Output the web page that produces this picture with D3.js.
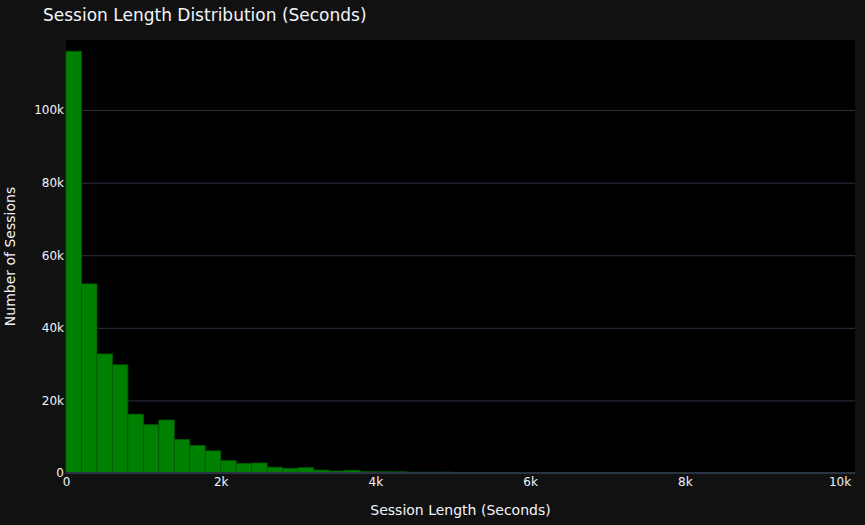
<!DOCTYPE html>
<html><head><meta charset="utf-8">
<script src="https://cdn.jsdelivr.net/npm/d3@7"></script>
<style>html,body{margin:0;padding:0;background:#111111;}svg{display:block;}</style>
</head><body>
<script>
const binStarts = d3.range(0, 10200, 200);
const counts = [116200, 52100, 32800, 29800, 16200, 13300, 14600, 9200, 7600, 6100,
  3400, 2600, 2750, 1600, 1300, 1460, 800, 550, 740, 360,
  350, 330, 220, 220, 230, 120, 80, 80, 70, 50,
  40, 30, 25, 20, 20, 15, 10, 10, 8, 6,
  5, 5, 4, 3, 3, 2, 2, 2, 1, 1, 1];
const binWidth = 200;
const yTicks = [0, 20000, 40000, 60000, 80000, 100000];
const xTicks = [0, 2000, 4000, 6000, 8000, 10000];
const titleText = "Session Length Distribution (Seconds)";
const xTitle = "Session Length (Seconds)";
const yTitle = "Number of Sessions";

const W = 865, H = 525;
const m = {l: 66, r: 10, t: 40, b: 52};
const font = "'DejaVu Sans', sans-serif";
const svg = d3.select("body").append("svg").attr("width", W).attr("height", H)
  .style("background", "#111111");

const x = d3.scaleLinear().domain([0, 10200]).range([m.l, W - m.r]);
const y = d3.scaleLinear().domain([0, 119300]).range([H - m.b, m.t]);

svg.append("rect").attr("x", m.l).attr("y", m.t)
  .attr("width", W - m.r - m.l).attr("height", H - m.b - m.t).attr("fill", "#000000");

// grid
svg.append("g").selectAll("line").data(yTicks.filter(d => d > 0)).join("line")
  .attr("x1", m.l).attr("x2", W - m.r)
  .attr("y1", d => y(d) + 0.5).attr("y2", d => y(d) + 0.5)
  .attr("stroke", "#283442").attr("stroke-width", 1);

// bars
const data = binStarts.map((s, i) => ({s, v: counts[i]}));
svg.append("g").selectAll("rect").data(data).join("rect")
  .attr("x", d => x(d.s))
  .attr("width", d => x(d.s + binWidth) - x(d.s))
  .attr("y", d => y(d.v))
  .attr("height", d => y(0) - y(d.v))
  .attr("fill", "#008000")
  .attr("stroke", "#005c00").attr("stroke-width", 0.8);

// zero line
svg.append("line").attr("x1", m.l).attr("x2", W - m.r)
  .attr("y1", y(0)).attr("y2", y(0))
  .attr("stroke", "#283442").attr("stroke-width", 2);

const fmt = d => d === 0 ? "0" : d3.format("~s")(d);

// y axis
const yAxis = d3.axisLeft(y).tickValues(yTicks).tickFormat(fmt).tickSize(0).tickPadding(2);
const gy = svg.append("g").attr("transform", `translate(${m.l},0)`).call(yAxis);
gy.select(".domain").remove();
gy.selectAll("text").attr("fill", "#f2f5fa").style("font-family", font).style("font-size", "12px");

// x axis
const xAxis = d3.axisBottom(x).tickValues(xTicks).tickFormat(fmt).tickSize(0).tickPadding(4);
const gx = svg.append("g").attr("transform", `translate(0,${H - m.b})`).call(xAxis);
gx.select(".domain").remove();
gx.selectAll("text").attr("fill", "#f2f5fa").style("font-family", font).style("font-size", "12px");

// titles
svg.append("text").attr("x", 43).attr("y", 21).text(titleText)
  .attr("fill", "#f2f5fa").style("font-family", font).style("font-size", "17px");
svg.append("text").attr("x", (m.l + W - m.r) / 2).attr("y", 515).attr("text-anchor", "middle")
  .text(xTitle).attr("fill", "#f2f5fa").style("font-family", font).style("font-size", "14px");
svg.append("text").attr("transform", `translate(15,${(m.t + H - m.b) / 2}) rotate(-90)`)
  .attr("text-anchor", "middle").text(yTitle)
  .attr("fill", "#f2f5fa").style("font-family", font).style("font-size", "14px");
</script>
</body></html>
